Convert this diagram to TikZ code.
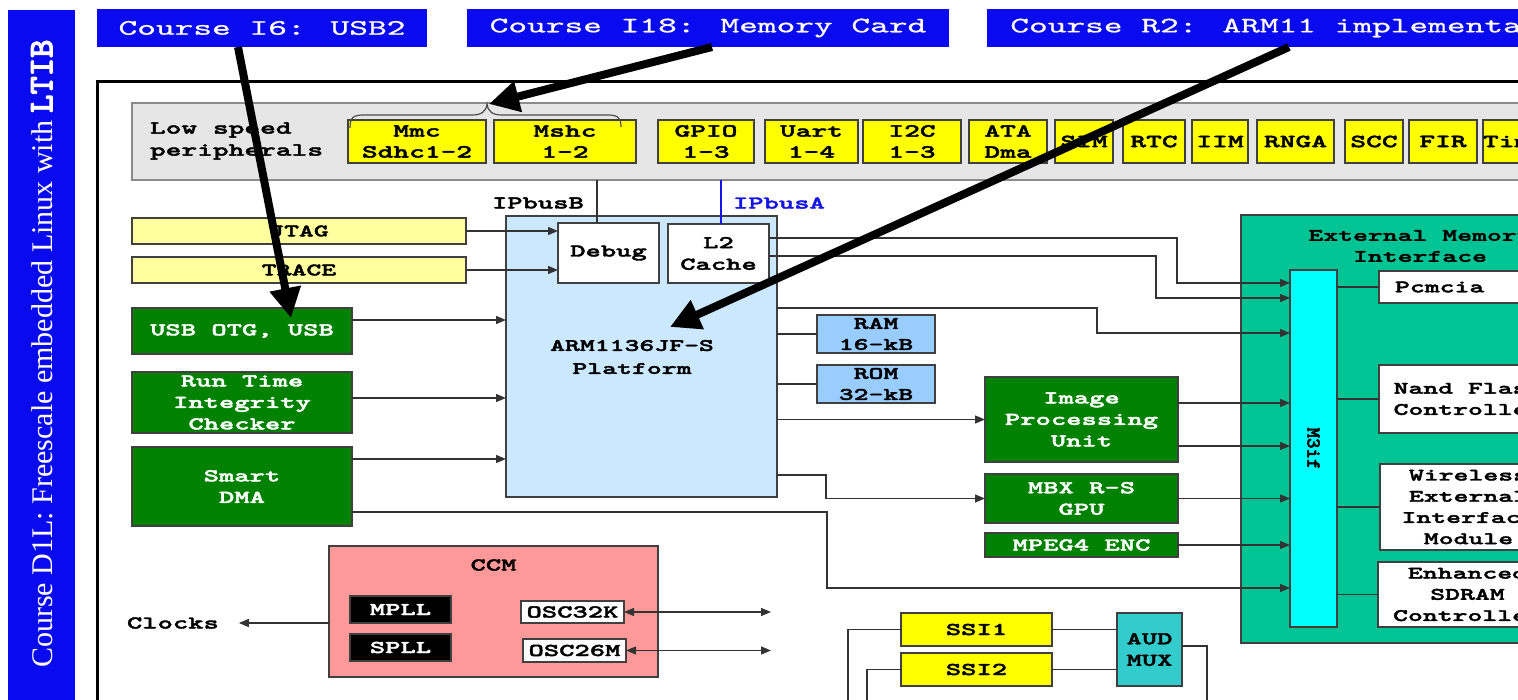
\documentclass[tikz,border=0pt]{standalone}
\usepackage{fontspec}
\setmainfont{Liberation Serif}
\newfontfamily\cour[FakeStretch=1.62,FakeBold=2.2]{lmmonolt10-bold.otf}
\newfontfamily\courr[FakeStretch=1.62,FakeBold=0.8]{lmmono10-regular.otf}
\newfontfamily\courn[FakeBold=2.2]{lmmonolt10-bold.otf}
\usetikzlibrary{arrows.meta}
\definecolor{bblue}{RGB}{10,10,240}
\definecolor{pyellow}{RGB}{255,255,0}
\definecolor{lyellow}{RGB}{255,255,160}
\definecolor{gbox}{RGB}{0,130,0}
\definecolor{platblue}{RGB}{204,232,255}
\definecolor{ramblue}{RGB}{153,204,255}
\definecolor{emigreen}{RGB}{0,196,148}
\definecolor{mcyan}{RGB}{0,255,255}
\definecolor{ccmpink}{RGB}{255,153,153}
\definecolor{audteal}{RGB}{51,204,204}
\definecolor{bandgray}{RGB}{230,230,230}
\definecolor{busblue}{RGB}{20,20,230}
\tikzset{
  box/.style={draw=black!75, line width=1.3pt, inner sep=0pt, outer sep=0pt, align=center,
    font=\cour\fontsize{18}{21.5}\selectfont},
  per/.style={box, fill=pyellow, font=\cour\fontsize{18.5}{21}\selectfont},
  grn/.style={box, fill=gbox, text=white},
  wht/.style={box, fill=white, font=\cour\fontsize{17.5}{21.2}\selectfont},
  ban/.style={box, draw=none, fill=bblue, text=white, font=\courr\fontsize{22}{24}\selectfont},
  ln/.style={draw=black!80, line width=1.3pt},
  arr/.style={ln, -{Triangle[length=10pt,width=8pt]}},
  darr/.style={ln, {Triangle[length=10pt,width=8pt]}-{Triangle[length=10pt,width=8pt]}},
  big/.style={line width=8pt, -{Triangle[length=30pt,width=30pt]}},
  txt/.style={inner sep=0pt, outer sep=0pt, font=\cour\fontsize{18}{21.5}\selectfont},
}
\newcommand{\bx}[7]{\node[#6, minimum width={(#4)-(#2)}, minimum height={(#5)-(#3)}, anchor=north west] (#1) at (#2,#3) {#7};}
\begin{document}
\begin{tikzpicture}[x=1pt,y=-1pt]
\useasboundingbox (0,0) rectangle (1518,700);
\clip (0,0) rectangle (1518,700);
\fill[white] (0,0) rectangle (1518,700);

% left bar
\bx{lbar}{8}{10}{75}{720}{box, draw=none, fill=bblue}{}
\node[rotate=90, text=white, anchor=west, inner sep=0pt] (vt) at (42,668)
  {\fontsize{30}{30}\selectfont Course D1L: Freescale embedded Linux with {\courn\fontsize{35}{35}\selectfont LTIB}};

% banners
\bx{ban1}{97}{9}{427}{47}{ban}{Course I6: USB2}
\bx{ban2}{467}{9}{949}{47}{ban}{Course I18: Memory Card}
\bx{ban3}{987}{9}{1620}{47}{ban}{Course R2: ARM11 implementation}

% frame
\draw[line width=3pt] (97,82) rectangle (1640,760);

% low speed band
\bx{band}{132}{103}{1640}{180}{box, fill=bandgray, draw=black!45}{}
\node[txt, anchor=west, align=left, font=\cour\fontsize{18.5}{22}\selectfont] (lsp) at (150,141) {Low speed\\peripherals};

\bx{mmc}{348}{120}{486}{163}{per}{Mmc\\Sdhc1-2}
\bx{mshc}{494}{120}{636}{163}{per}{Mshc\\1-2}
\bx{gpio}{658}{120}{754}{163}{per}{GPIO\\1-3}
\bx{uart}{765}{120}{858}{163}{per}{Uart\\1-4}
\bx{i2c}{863}{120}{961}{163}{per}{I2C\\1-3}
\bx{ata}{969}{120}{1047}{163}{per}{ATA\\Dma}
\bx{sim}{1055}{120}{1113}{163}{per}{SIM}
\bx{rtc}{1123}{120}{1185}{163}{per}{RTC}
\bx{iim}{1192}{120}{1248}{163}{per}{IIM}
\bx{rnga}{1257}{120}{1334}{163}{per}{RNGA}
\bx{scc}{1345}{120}{1403}{163}{per}{SCC}
\bx{fir}{1409}{120}{1477}{163}{per}{FIR}
\bx{tim}{1483}{120}{1560}{163}{per}{Timer}

% brace over Mmc / Mshc
\draw[black!70, line width=1.2pt] (350,128) .. controls (350,118) and (353,115) .. (363,115)
  -- (472,115) .. controls (481,115) and (486,112) .. (487,104)
  .. controls (488,112) and (493,115) .. (502,115) -- (608,115)
  .. controls (618,115) and (621,118) .. (621,127);

% bus lines
\coordinate (ipb) at (597,180);
\coordinate (ipa) at (721,180);
\node[txt, anchor=west] (ipbt) at (492,203) {IPbusB};
\node[txt, anchor=west, text=busblue] (ipat) at (733,203) {IPbusA};

% left column
\bx{jtag}{132}{218}{466}{244}{box, fill=lyellow, font=\cour\fontsize{17.5}{20}\selectfont}{JTAG}
\bx{trace}{132}{257}{466}{283}{box, fill=lyellow, font=\cour\fontsize{17.5}{20}\selectfont}{TRACE}
\bx{usb}{132}{308}{352}{354}{grn}{USB OTG, USB}
\bx{rtic}{132}{372}{352}{433}{grn}{Run Time\\Integrity\\Checker}
\bx{sdma}{132}{447}{352}{526}{grn}{Smart\\DMA}

% platform
\bx{plat}{506}{216}{777}{497}{box, fill=platblue}{}
\node[txt, align=center, font=\cour\fontsize{17.5}{23}\selectfont] (platt) at (632,357) {ARM1136JF-S\\Platform};
\bx{debug}{558}{223}{659}{283}{box, fill=white}{Debug}
\bx{l2}{668}{224}{769}{283}{box, fill=white}{L2\\Cache}

\draw[ln] (ipb) -- (ipb |- debug.north);
\draw[ln, draw=busblue] (ipa) -- (ipa |- l2.north);

\bx{ram}{817}{315}{935}{353}{box, fill=ramblue, font=\cour\fontsize{17.5}{21}\selectfont}{RAM\\16-kB}
\bx{rom}{817}{365}{935}{403}{box, fill=ramblue, font=\cour\fontsize{17.5}{21}\selectfont}{ROM\\32-kB}

\bx{ipu}{985}{377}{1178}{462}{grn}{Image\\Processing\\Unit}
\bx{gpu}{985}{474}{1178}{523}{grn}{MBX R-S\\GPU}
\bx{mpeg}{985}{533}{1178}{557}{grn}{MPEG4 ENC}

% EMI
\bx{emi}{1241}{215}{1640}{643}{box, fill=emigreen}{}
\node[txt, align=center, font=\cour\fontsize{17.5}{21}\selectfont] (emit) at (1420,246) {External Memory\\Interface};
\bx{m3if}{1290}{270}{1337}{627}{box, fill=mcyan}{}
\node[txt, rotate=-90, font=\courn\fontsize{20}{20}\selectfont] (m3t) at (m3if.center) {M3if};
\bx{pcm}{1379}{271}{1557}{303}{wht, align=left, text width=146pt, inner xsep=16pt}{Pcmcia}
\bx{nand}{1379}{365}{1557}{433}{wht}{Nand Flash\\Controller}
\bx{wire}{1380}{464}{1557}{550}{wht}{Wireless\\External\\Interface\\Module}
\bx{sdram}{1378}{562}{1557}{627}{wht}{Enhanced\\SDRAM\\Controller}

% CCM
\bx{ccm}{329}{546}{658}{677}{box, fill=ccmpink}{}
\node[txt] (ccmt) at ([yshift=-19pt]ccm.north) {CCM};
\bx{mpll}{350}{596}{451}{623}{box, fill=black, text=white}{MPLL}
\bx{spll}{350}{634}{451}{661}{box, fill=black, text=white}{SPLL}
\bx{osc32}{521}{601}{624}{623}{box, fill=white}{OSC32K}
\bx{osc26}{523}{639}{626}{662}{box, fill=white}{OSC26M}
\node[txt, anchor=west] (clk) at (127,623) {Clocks};

% audio
\bx{ssi1}{901}{613}{1052}{646}{box, fill=pyellow}{SSI1}
\bx{ssi2}{901}{653}{1052}{686}{box, fill=pyellow}{SSI2}
\bx{aud}{1117}{613}{1182}{686}{box, fill=audteal}{AUD\\MUX}

% ---------- connectors ----------
\draw[arr] (jtag.east) -- (jtag.east -| debug.west);
\draw[arr] (trace.east) -- (trace.east -| debug.west);
\draw[arr] ([yshift=11pt]usb.east) coordinate (u1) -- (u1 -| plat.west);
\draw[arr] ([yshift=4.5pt]rtic.east) coordinate (r1) -- (r1 -| plat.west);
\draw[arr] ([yshift=27.5pt]sdma.east) coordinate (s1) -- (s1 -| plat.west);

\draw[ln] (ram.west -| plat.east) -- (ram.west);
\draw[ln] (rom.west -| plat.east) -- (rom.west);
\draw[arr] (ipu.west -| plat.east) -- (ipu.west);

\coordinate (bg) at (826,0);
\draw[arr] ([yshift=-118.5pt]plat.east) coordinate (g1) -- (g1 -| bg) -- (bg |- gpu.west) -- (gpu.west);

\coordinate (bp) at (1097,0);
\coordinate (t3) at ([yshift=115.5pt]m3if.west);
\draw[arr] ([yshift=48.5pt]plat.east) coordinate (p1) -- (p1 -| bp) -- (bp |- t3) -- (t3);

\coordinate (bl1) at (1177,0);
\coordinate (t1) at ([yshift=165.5pt]m3if.west);
\draw[arr] ([yshift=15.5pt]l2.east) coordinate (l1) -- (l1 -| bl1) -- (bl1 |- t1) -- (t1);
\coordinate (bl2) at (1156,0);
\coordinate (t2) at ([yshift=150.5pt]m3if.west);
\draw[arr] ([yshift=-2.5pt]l2.east) coordinate (l2b) -- (l2b -| bl2) -- (bl2 |- t2) -- (t2);

\draw[arr] ([yshift=16.5pt]ipu.east) coordinate (i1) -- (i1 -| m3if.west);
\draw[arr] ([yshift=-26.5pt]ipu.east) coordinate (i2) -- (i2 -| m3if.west);
\draw[arr] (gpu.east) -- (gpu.east -| m3if.west);
\draw[arr] (mpeg.east) -- (mpeg.east -| m3if.west);

\coordinate (bd) at (827,0);
\coordinate (t8) at ([yshift=-139.5pt]m3if.west);
\draw[arr] ([yshift=-25.5pt]sdma.east) coordinate (d1) -- (d1 -| bd) -- (bd |- t8) -- (t8);

\draw[ln] (pcm.west -| m3if.east) -- (pcm.west);
\draw[ln] (nand.west -| m3if.east) -- (nand.west);
\draw[ln] (wire.west -| m3if.east) -- (wire.west);
\draw[ln] (sdram.west -| m3if.east) -- (sdram.west);

% CCM connectors
\draw[arr] (ccm.west |- clk) -- ([xshift=20pt]clk.east);
\coordinate (o32r) at (771,612);
\coordinate (o26r) at (771,650.5);
\draw[darr] (osc32.east) -- (o32r);
\draw[darr] (osc26.east) -- (o26r);

% audio connectors
\draw[ln] (ssi1.east) -- (ssi1.east -| aud.west);
\draw[ln] (ssi2.east) -- (ssi2.east -| aud.west);
\coordinate (s1d) at (848,720);
\coordinate (s2d) at (867,720);
\coordinate (ad) at (1207,720);
\draw[ln] (ssi1.west) -| (s1d);
\draw[ln] (ssi2.west) -| (s2d);
\draw[ln] ([yshift=3.5pt]aud.east) -| (ad);

% big course arrows
\coordinate (a1e) at (291,318);
\coordinate (a2e) at (489,104);
\coordinate (a3e) at (670,327);
\draw[big] ([xshift=-24pt]ban1.south) -- (a1e);
\draw[big] ([xshift=4pt]ban2.south) -- (a2e);
\draw[big] ([xshift=-14.5pt]ban3.south) -- (a3e);
\end{tikzpicture}
\end{document}
